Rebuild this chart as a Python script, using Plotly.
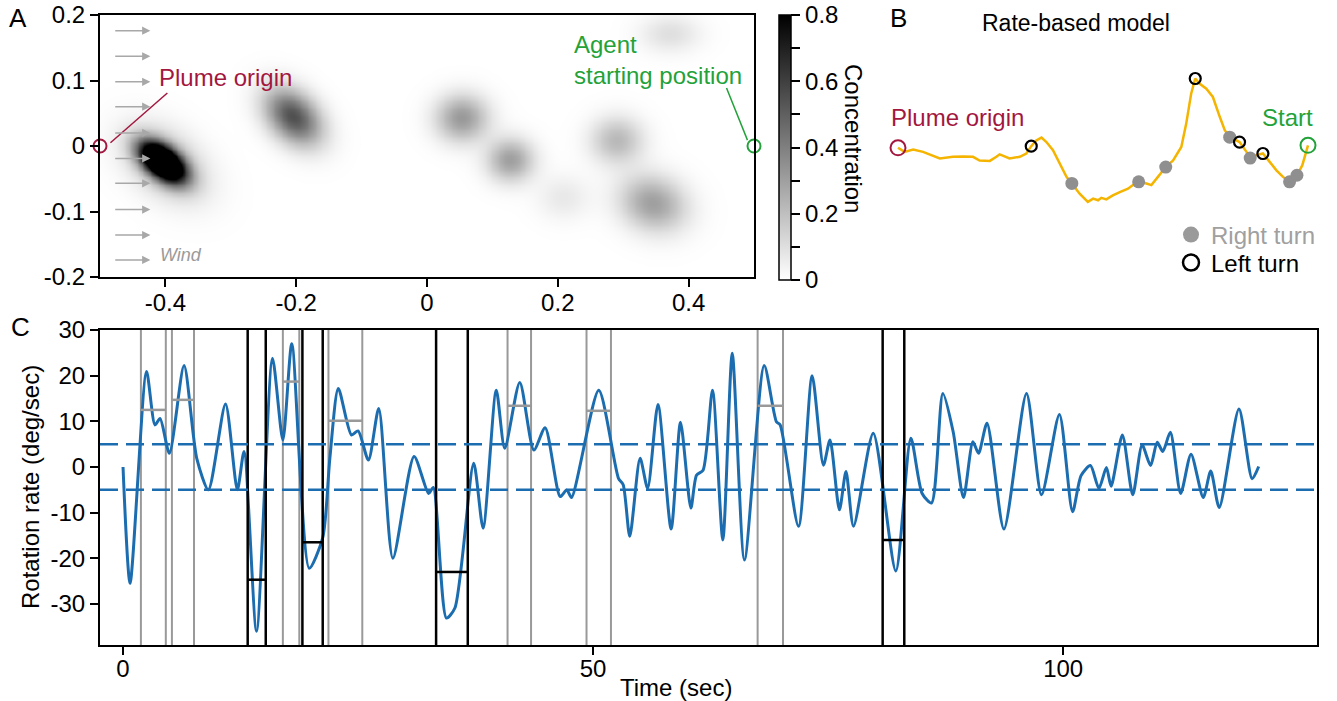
import numpy as np
import plotly.graph_objects as go

# ---------------- Panel A: odor puffs ----------------
puff_x = [-0.405, -0.400, -0.205, 0.053, 0.127, 0.208, 0.290, 0.345, 0.371]
puff_y = [-0.024, -0.026, 0.045, 0.043, -0.021, -0.078, 0.009, -0.087, 0.172]
puff_amp = [1.5, 0.22, 0.55, 0.32, 0.30, 0.07, 0.22, 0.30, 0.10]
puff_sx = [0.027, 0.048, 0.035, 0.028, 0.025, 0.028, 0.028, 0.036, 0.032]
puff_sy = [0.015, 0.032, 0.024, 0.025, 0.023, 0.024, 0.025, 0.029, 0.020]
puff_angle = [-38, -38, -45, 0, 0, 0, 0, -20, 0]
wind_y = [0.176, 0.137, 0.098, 0.060, 0.020, -0.019, -0.057, -0.097, -0.136, -0.174]
cbar_ticks = [0, 0.1, 0.2, 0.3, 0.4, 0.5, 0.6, 0.7, 0.8]
cbar_text = ["0", "", "0.2", "", "0.4", "", "0.6", "", "0.8"]

# ---------------- Panel B: trajectory ----------------
traj_x = [-0.500, -0.484, -0.463, -0.439, -0.398, -0.366, -0.341, -0.317, -0.301, -0.276,
          -0.260, -0.252, -0.240, -0.228, -0.203, -0.187, -0.175, -0.163, -0.150, -0.138,
          -0.122, -0.106, -0.089, -0.076, -0.057, -0.037, -0.024, -0.012, -0.004, 0.008,
          0.024, 0.041, 0.061, 0.073, 0.087, 0.106, 0.118, 0.134, 0.153, 0.171,
          0.191, 0.203, 0.215, 0.225, 0.236, 0.252, 0.268, 0.285, 0.297, 0.309,
          0.333, 0.350, 0.359, 0.374, 0.390, 0.407, 0.423, 0.439, 0.455, 0.473,
          0.486, 0.500]
traj_y = [-0.002, -0.012, -0.006, -0.012, -0.028, -0.024, -0.023, -0.024, -0.033, -0.034,
          -0.024, -0.018, -0.023, -0.028, -0.024, -0.016, 0.002, 0.016, 0.023, 0.012,
          -0.008, -0.041, -0.073, -0.089, -0.114, -0.134, -0.126, -0.130, -0.124, -0.128,
          -0.118, -0.110, -0.102, -0.093, -0.085, -0.089, -0.093, -0.073, -0.049, -0.033,
          0.000, 0.057, 0.130, 0.167, 0.154, 0.142, 0.122, 0.073, 0.041, 0.024,
          0.012, -0.012, -0.027, -0.020, -0.016, -0.037, -0.057, -0.073, -0.085, -0.069,
          -0.045, 0.004]
right_x = [-0.076, 0.087, 0.153, 0.309, 0.359, 0.455, 0.473]
right_y = [-0.089, -0.085, -0.049, 0.024, -0.027, -0.085, -0.069]
left_x = [-0.175, 0.225, 0.333, 0.390]
left_y = [0.002, 0.167, 0.012, -0.016]

# ---------------- Panel C: rotation rate ----------------
time_s = [0, 0.75, 2.5, 3.4, 3.94, 4.93, 6.49, 7.84, 9.08, 10.9,
          12.16, 12.87, 14.2, 15.9, 17.0, 17.95, 19.8, 21.24, 22.0, 22.9,
          24.3, 25.0, 26.1, 27.2, 28.7, 30.96, 32.5, 33.0, 34.4, 35.3,
          37.3, 38.3, 39.7, 40.6, 42.2, 43.7, 44.9, 46.5, 47.2, 47.7,
          50.6, 52.7, 53.2, 53.9, 55.0, 55.8, 56.9, 58.3, 59.3, 60.4,
          61.0, 61.7, 62.7, 63.8, 64.8, 66.1, 68.2, 69.5, 69.9, 71.85,
          73.3, 74.5, 75.2, 76.2, 76.9, 77.7, 79.8, 82.2, 83.8, 85.0,
          86.0, 87.2, 88.3, 89.4, 90.4, 91.0, 91.9, 93.7, 96.1, 97.7,
          99.6, 101.0, 101.9, 102.9, 103.8, 104.6, 105.1, 106.3, 107.4, 108.4,
          109.3, 110.0, 110.6, 111.4, 112.5, 113.6, 114.9, 115.7, 116.6, 118.7,
          120.1, 120.8]
rate = [0, -25.5, 20.9, 9.2, 10.6, 3.0, 22.2, 1.9, -5.0, 13.8,
        -5.0, 3.4, -36, 23.8, 5.9, 27, -22.2, -15.5, 1.9, 17.2,
        7.0, 7.9, 1.5, 12.8, -20, 2.3, -5.8, -4.5, -33.1, -30.9,
        0.8, -13.4, 16.8, 4.1, 18.5, 3.7, 8.6, -6.5, -5.0, -6.7,
        16.8, -2.5, -3.9, -15.2, 1.9, -4.7, 13.7, -13.6, 9.8, -9.0,
        -1.8, -0.7, 16.8, -16, 24.9, -20.4, 22.2, 9.9, 9.2, -13,
        20.0, 0.4, 5.9, -9.4, -1.0, -13, 7.4, -22.8, 6.3, -5.8,
        -7.9, 16.1, 7.7, -6.7, 5.5, 3.0, 9.6, -13.6, 16.1, -6.1,
        11.5, -9.8, -1.9, 0.3, -4.7, -0.1, -4.2, 7.0, -6.1, 4.8,
        0.3, 5.4, 3.4, 7.6, -5.8, 2.8, -6.7, -0.9, -8.9, 12.7,
        -2.6, 0.1]
threshold = 5
gray_on = [1.9, 5.2, 17.0, 21.85, 40.9, 49.3, 67.5]
gray_off = [4.55, 7.55, 18.75, 25.45, 43.4, 51.9, 70.2]
gray_level = [12.5, 14.7, 18.7, 10.1, 13.4, 12.3, 13.4]
black_on = [13.26, 19.08, 33.3, 80.8]
black_off = [15.18, 21.24, 36.67, 83.1]
black_level = [-24.7, -16.5, -23.0, -16.0]

FONT = "Liberation Sans, Arial, Helvetica, sans-serif"
FS = 24
CRIMSON = "#a3173f"
GREEN = "#23a23a"
BLUE = "#1c6daf"
GOLD = "#f4b400"
TURN_GRAY = "#8f8f8f"

W, H = 1337, 701
def px(x):
    return x / W
def py(y):
    return 1 - y / H

fig = go.Figure()

# ---- Panel A heatmap ----
gx = np.linspace(-0.5, 0.5, 251)
gy = np.linspace(-0.2, 0.2, 101)
GX, GY = np.meshgrid(gx, gy)
Z = np.zeros_like(GX)
for cx, cy, a, sx, sy, ang in zip(puff_x, puff_y, puff_amp, puff_sx, puff_sy, puff_angle):
    th = np.deg2rad(ang)
    dx = GX - cx
    dy = GY - cy
    u = dx * np.cos(th) + dy * np.sin(th)
    v = -dx * np.sin(th) + dy * np.cos(th)
    Z += a * np.exp(-0.5 * ((u / sx) ** 2 + (v / sy) ** 2))

fig.add_trace(go.Heatmap(
    x=gx, y=gy, z=Z, zmin=0, zmax=0.8, zsmooth="best",
    colorscale=[[0, "white"], [1, "black"]],
    xaxis="x", yaxis="y", hoverinfo="skip",
    colorbar=dict(
        x=px(769), xanchor="left", xref="paper",
        y=py(147.5), yanchor="middle", len=285 / H, lenmode="fraction", ypad=10,
        thickness=12, outlinecolor="black", outlinewidth=1.5,
        tickvals=cbar_ticks, ticktext=cbar_text, ticks="outside",
        ticklen=9, tickwidth=1.5, tickcolor="black",
        tickfont=dict(family=FONT, size=FS, color="black"),
    ),
))

# markers in panel A
fig.add_trace(go.Scatter(x=[-0.5], y=[0], mode="markers", xaxis="x", yaxis="y",
                         marker=dict(symbol="circle-open", size=13, color=CRIMSON, line=dict(width=2)),
                         cliponaxis=False, showlegend=False, hoverinfo="skip"))
fig.add_trace(go.Scatter(x=[0.5], y=[0], mode="markers", xaxis="x", yaxis="y",
                         marker=dict(symbol="circle-open", size=13, color=GREEN, line=dict(width=2)),
                         cliponaxis=False, showlegend=False, hoverinfo="skip"))
fig.add_trace(go.Scatter(x=[-0.484, -0.397], y=[0.005, 0.081], mode="lines", xaxis="x", yaxis="y",
                         line=dict(color=CRIMSON, width=1.5), showlegend=False, hoverinfo="skip"))
fig.add_trace(go.Scatter(x=[0.458, 0.49], y=[0.0885, 0.009], mode="lines", xaxis="x", yaxis="y",
                         line=dict(color=GREEN, width=1.5), showlegend=False, hoverinfo="skip"))

annotations = []
for wy in wind_y:
    annotations.append(dict(x=-0.423, y=wy, ax=-0.479, ay=wy, xref="x", yref="y",
                            axref="x", ayref="y", showarrow=True, arrowhead=2,
                            arrowsize=1.1, arrowwidth=1.5, arrowcolor="#a8a8a8", text=""))
annotations += [
    dict(x=-0.411, y=-0.166, xref="x", yref="y", text="<i>Wind</i>", showarrow=False,
         xanchor="left", yanchor="middle", font=dict(family=FONT, size=18, color="#9a9a9a")),
    dict(x=-0.413, y=0.104, xref="x", yref="y", text="Plume origin", showarrow=False,
         xanchor="left", yanchor="middle", font=dict(family=FONT, size=FS, color=CRIMSON)),
    dict(x=0.221, y=0.131, xref="x", yref="y", text="Agent<br>starting position", showarrow=False,
         xanchor="left", yanchor="middle", align="left",
         font=dict(family=FONT, size=FS, color=GREEN)),
    dict(x=px(853), y=py(138), xref="paper", yref="paper", text="Concentration", showarrow=False,
         textangle=90, xanchor="center", yanchor="middle",
         font=dict(family=FONT, size=FS, color="black")),
    dict(x=px(18), y=py(18), xref="paper", yref="paper", text="A", showarrow=False,
         xanchor="center", yanchor="middle", font=dict(family=FONT, size=26, color="black")),
    dict(x=px(898), y=py(18), xref="paper", yref="paper", text="B", showarrow=False,
         xanchor="center", yanchor="middle", font=dict(family=FONT, size=26, color="black")),
    dict(x=px(20), y=py(327), xref="paper", yref="paper", text="C", showarrow=False,
         xanchor="center", yanchor="middle", font=dict(family=FONT, size=26, color="black")),
    dict(x=px(1076), y=py(23), xref="paper", yref="paper", text="Rate-based model", showarrow=False,
         xanchor="center", yanchor="middle", font=dict(family=FONT, size=23, color="black")),
    dict(x=-0.354, y=0.073, xref="x2", yref="y2", text="Plume origin", showarrow=False,
         xanchor="center", yanchor="middle", font=dict(family=FONT, size=FS, color=CRIMSON)),
    dict(x=0.451, y=0.073, xref="x2", yref="y2", text="Start", showarrow=False,
         xanchor="center", yanchor="middle", font=dict(family=FONT, size=FS, color=GREEN)),
    dict(x=px(676), y=py(687), xref="paper", yref="paper", text="Time (sec)", showarrow=False,
         xanchor="center", yanchor="middle", font=dict(family=FONT, size=FS, color="black")),
    dict(x=px(30), y=py(487), xref="paper", yref="paper", text="Rotation rate (deg/sec)",
         showarrow=False, textangle=-90, xanchor="center", yanchor="middle",
         font=dict(family=FONT, size=FS, color="black")),
]

# ---- Panel B ----
fig.add_trace(go.Scatter(x=traj_x, y=traj_y, mode="lines", xaxis="x2", yaxis="y2",
                         line=dict(color=GOLD, width=2.5), showlegend=False, hoverinfo="skip"))
fig.add_trace(go.Scatter(x=right_x, y=right_y, mode="markers", xaxis="x2", yaxis="y2",
                         marker=dict(symbol="circle", size=13, color=TURN_GRAY),
                         showlegend=False, hoverinfo="skip"))
fig.add_trace(go.Scatter(x=left_x, y=left_y, mode="markers", xaxis="x2", yaxis="y2",
                         marker=dict(symbol="circle-open", size=11, color="black", line=dict(width=2.2)),
                         showlegend=False, hoverinfo="skip"))
# legend entries (larger symbols, as in the figure's key)
fig.add_trace(go.Scatter(x=[None], y=[None], mode="markers", xaxis="x2", yaxis="y2",
                         marker=dict(symbol="circle", size=18, color="#9a9a9a"),
                         name="<span style='color:#a0a0a0'>Right turn</span>",
                         showlegend=True, legend="legend"))
fig.add_trace(go.Scatter(x=[None], y=[None], mode="markers", xaxis="x2", yaxis="y2",
                         marker=dict(symbol="circle-open", size=18, color="black", line=dict(width=2.5)),
                         name="Left turn", showlegend=True, legend="legend2"))
fig.add_trace(go.Scatter(x=[traj_x[0]], y=[traj_y[0]], mode="markers", xaxis="x2", yaxis="y2",
                         marker=dict(symbol="circle-open", size=15, color=CRIMSON, line=dict(width=2)),
                         showlegend=False, hoverinfo="skip", cliponaxis=False))
fig.add_trace(go.Scatter(x=[traj_x[-1]], y=[traj_y[-1]], mode="markers", xaxis="x2", yaxis="y2",
                         marker=dict(symbol="circle-open", size=15, color=GREEN, line=dict(width=2)),
                         showlegend=False, hoverinfo="skip", cliponaxis=False))

# ---- Panel C ----
shapes = []
for on, off in zip(gray_on, gray_off):
    for t in (on, off):
        shapes.append(dict(type="line", xref="x3", yref="y3 domain", x0=t, x1=t, y0=0, y1=1,
                           line=dict(color="#999999", width=2), layer="below"))
for on, off in zip(black_on, black_off):
    for t in (on, off):
        shapes.append(dict(type="line", xref="x3", yref="y3 domain", x0=t, x1=t, y0=0, y1=1,
                           line=dict(color="black", width=2.5), layer="above"))
for lv in (threshold, -threshold):
    shapes.append(dict(type="line", xref="x3 domain", yref="y3", x0=0, x1=1, y0=lv, y1=lv,
                       line=dict(color=BLUE, width=2.5, dash="18px,8px"), layer="above"))

fig.add_trace(go.Scatter(x=time_s, y=rate, mode="lines", xaxis="x3", yaxis="y3",
                         line=dict(color=BLUE, width=3, shape="spline", smoothing=0.7),
                         showlegend=False, hoverinfo="skip"))

for on, off, lv in zip(gray_on, gray_off, gray_level):
    shapes.append(dict(type="line", xref="x3", yref="y3", x0=on, x1=off, y0=lv, y1=lv,
                       line=dict(color="#999999", width=2.5), layer="above"))
for on, off, lv in zip(black_on, black_off, black_level):
    shapes.append(dict(type="line", xref="x3", yref="y3", x0=on, x1=off, y0=lv, y1=lv,
                       line=dict(color="black", width=2.5), layer="above"))

tickfont = dict(family=FONT, size=FS, color="black")
axis_common = dict(showline=True, linecolor="black", linewidth=2, mirror=True,
                   ticks="outside", ticklen=8, tickwidth=2, tickcolor="black",
                   showgrid=False, zeroline=False, tickfont=tickfont, automargin=False)
legend_common = dict(xanchor="left", yanchor="middle", bgcolor="rgba(0,0,0,0)",
                     font=dict(family=FONT, size=FS, color="black"), itemwidth=30,
                     borderwidth=0)

fig.update_layout(
    template="none",
    width=W, height=H, margin=dict(l=0, r=0, t=0, b=0, pad=0), autosize=False,
    paper_bgcolor="white", plot_bgcolor="white",
    font=dict(family=FONT, size=FS, color="black"),
    xaxis=dict(domain=[px(100), px(754)], range=[-0.5, 0.5], anchor="y",
               tickvals=[-0.4, -0.2, 0, 0.2, 0.4], ticktext=["-0.4", "-0.2", "0", "0.2", "0.4"],
               ticklabelstandoff=-5, **axis_common),
    yaxis=dict(domain=[py(277), py(15)], range=[-0.2, 0.2], anchor="x",
               tickvals=[-0.2, -0.1, 0, 0.1, 0.2], ticktext=["-0.2", "-0.1", "0", "0.1", "0.2"],
               **axis_common),
    xaxis2=dict(domain=[px(877.5), px(1328.5)], range=[-0.55, 0.55], anchor="y2",
                visible=False, automargin=False),
    yaxis2=dict(domain=[py(290), py(40)], range=[-0.349, 0.261], anchor="x2",
                visible=False, automargin=False),
    xaxis3=dict(domain=[px(100), px(1317)], range=[-2.45, 127], anchor="y3",
                tickvals=[0, 50, 100], ticktext=["0", "50", "100"],
                ticklabelstandoff=-7, **axis_common),
    yaxis3=dict(domain=[py(645), py(330)], range=[-39, 30], anchor="x3",
                tickvals=[-30, -20, -10, 0, 10, 20, 30],
                ticktext=["-30", "-20", "-10", "0", "10", "20", "30"],
                **axis_common),
    legend=dict(x=px(1171), y=py(235), **legend_common),
    legend2=dict(x=px(1171), y=py(263), **legend_common),
    annotations=annotations,
    shapes=shapes,
)

fig.write_html("out.html", config={"displayModeBar": False},
               post_script="document.body.style.margin='0';document.body.style.overflow='hidden';")
